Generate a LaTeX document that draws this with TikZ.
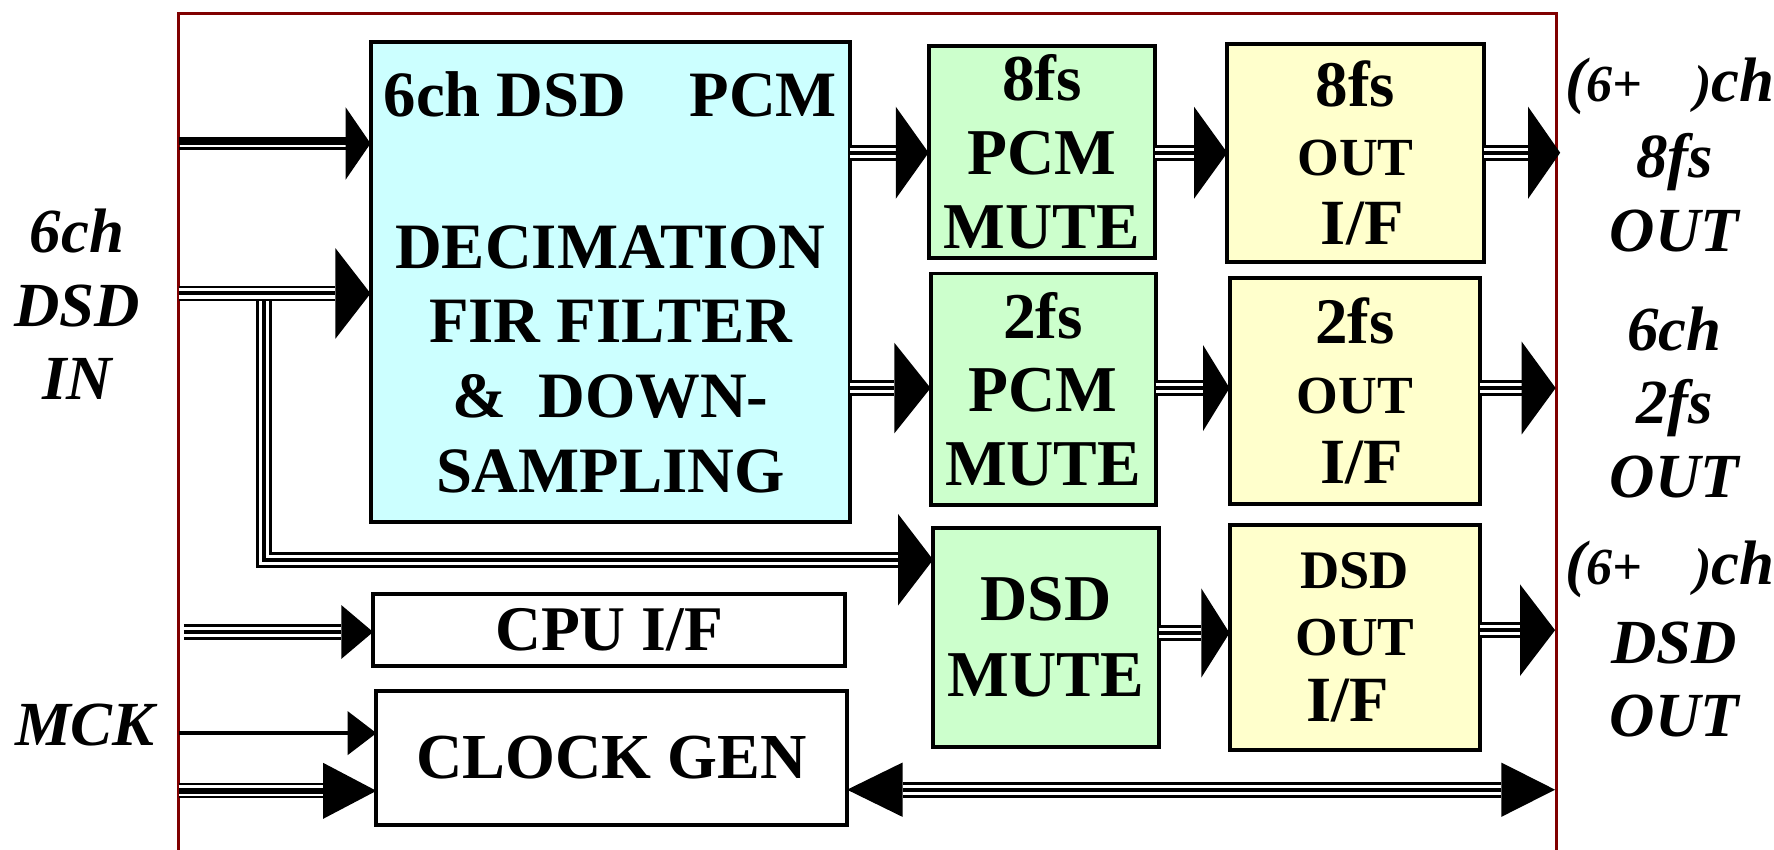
\documentclass[tikz,border=0pt]{standalone}
\usepackage{fontspec}
\setmainfont{Liberation Serif}
\usetikzlibrary{calc}
\definecolor{framered}{HTML}{800000}
\definecolor{bluefill}{HTML}{CCFFFF}
\definecolor{greenfill}{HTML}{CCFFCC}
\definecolor{yellowfill}{HTML}{FFFFCC}
\newcommand\fsz[1]{\fontsize{#1}{#1}\selectfont}
\begin{document}
\begin{tikzpicture}[x=1pt,y=-1pt,
  blk/.style={draw=black,line width=3.5pt,inner sep=0pt,outer sep=0pt,align=center,font=\bfseries\fontsize{57.2}{66}\selectfont},
  bus/.style={draw=black,line width=14pt,postaction={draw=white,line width=9pt},postaction={draw=black,line width=3.5pt}},
  busb/.style={draw=black,line width=13.5pt,postaction={draw=white,line width=9.5pt},postaction={draw=black,line width=5pt}},
  lbl/.style={align=center,inner sep=0pt,font=\bfseries\itshape\fontsize{55.5}{65}\selectfont}]
\useasboundingbox (0,0) rectangle (1568,751);
\clip (0,0) rectangle (1568,751);
\fill[white] (0,0) rectangle (1568,751);
% frame
\draw[framered,line width=2.5pt] (158,760) -- (158,11.8) -- (1375.5,11.8) -- (1375.5,760);
% blocks
\node[blk,fill=bluefill,minimum width=424pt,minimum height=424pt] (dec) at (539.5,249.5)
  {6ch DSD\hspace{56pt}PCM\\[68pt]DECIMATION\\FIR FILTER\\\&\ \ DOWN-\\SAMPLING};
\node[blk,fill=greenfill,minimum width=200.5pt,minimum height=187.5pt,font=\bfseries\fontsize{57.8}{65.5}\selectfont] (b8) at (921,134.5) {8fs\\PCM\\MUTE};
\node[blk,fill=greenfill,minimum width=199pt,minimum height=204.5pt,font=\bfseries\fontsize{57.8}{65}\selectfont] (b2) at (922,344) {2fs\\PCM\\MUTE};
\node[blk,fill=greenfill,minimum width=199.5pt,minimum height=193.5pt,font=\bfseries\fontsize{57.8}{67}\selectfont] (dsdm) at (924.5,563.5) {DSD\\MUTE};
\node[blk,fill=yellowfill,minimum width=226.5pt,minimum height=192pt,font=\bfseries\fontsize{52}{61}\selectfont] (o8) at (1198,135.2)
  {{\fsz{57.5}8fs}\\{\fsz{47.4}OUT}\\{\fsz{57}\hspace*{12pt}I/F}};
\node[blk,fill=yellowfill,minimum width=221.5pt,minimum height=199.5pt,font=\bfseries\fontsize{52}{62}\selectfont] (o2) at (1197.5,345.5)
  {{\fsz{57.5}2fs}\\{\fsz{47.4}OUT}\\{\fsz{57}\hspace*{12pt}I/F}};
\node[blk,fill=yellowfill,minimum width=221.5pt,minimum height=199.5pt,font=\bfseries\fontsize{50}{59}\selectfont] (od) at (1197.5,563.5)
  {{\fsz{48}DSD}\\{\fsz{48.5}OUT}\\{\fsz{57}I/F\hspace*{13pt}}};
\node[blk,fill=white,minimum width=417pt,minimum height=63.5pt,font=\bfseries\fontsize{56.2}{66}\selectfont] (cpu) at (538.3,556.5) {CPU I/F};
\node[blk,fill=white,minimum width=416pt,minimum height=118.5pt,font=\bfseries\fontsize{56.7}{66}\selectfont] (clk) at (540.7,670) {CLOCK GEN};
% frame coordinates
\coordinate (i1) at (158,126.8);
\coordinate (i2) at (158,259.4);
\coordinate (br) at (233.5,262);
\coordinate (c1) at (162.5,558.6);
\coordinate (mck) at (158,648);
\coordinate (c2) at (158,699);
\coordinate (f1) at (1379,135);
\coordinate (f2) at (1375,343);
\coordinate (f3) at (1374.5,557);
\coordinate (f4) at (1374.5,698);
% 1: input 1
\draw[line width=6.8pt] ($(i1)+(0,-2)$) -- ($(i1 -| dec.west)+(-22,-2)$);
\draw[line width=2.4pt] ($(i1)+(0,4.6)$) -- ($(i1 -| dec.west)+(-22,4.6)$);
\fill (i1 -| dec.west) -- ++(-22,-32) -- ++(0,64) -- cycle;
% 3: branch to DSD mute
\draw[bus,line join=miter] (br) |- ($([yshift=-28pt]dsdm.north west)+(-31,0)$);
\fill ([yshift=-28pt]dsdm.north west) -- ++(-31,-40.5) -- ++(0,81) -- cycle;
% 2: input 2
\draw[bus] (i2) -- ($(i2 -| dec.west)+(-31,0)$);
\fill (i2 -| dec.west) -- ++(-31,-40) -- ++(0,80) -- cycle;
% 4: dec -> 8fs PCM mute
\draw[bus] (dec.east |- 0,135) -- ($(b8.west |- 0,135)+(-29,0)$);
\fill (b8.west |- 0,135) -- ++(-29,-40.7) -- ++(0,81.4) -- cycle;
% 5: dec -> 2fs PCM mute
\draw[bus] (dec.east |- 0,343) -- ($(b2.west |- 0,343)+(-32,0)$);
\fill (b2.west |- 0,343) -- ++(-32,-40) -- ++(0,80) -- cycle;
% 6: 8fs mute -> 8fs out
\draw[bus] (b8.east |- 0,135) -- ($(o8.west |- 0,135)+(-29.4,0)$);
\fill (o8.west |- 0,135) -- ++(-29.4,-40.7) -- ++(0,81.4) -- cycle;
% 7: 8fs out -> pin
\draw[bus] (o8.east |- f1) -- ($(f1)+(-28.4,0)$);
\fill (f1) -- ++(-28.4,-40.7) -- ++(0,81.4) -- cycle;
% 8: 2fs mute -> 2fs out
\draw[bus] (b2.east |- 0,343) -- ($(o2.west |- 0,343)+(-23.4,0)$);
\fill (o2.west |- 0,343) -- ++(-23.4,-38) -- ++(0,76) -- cycle;
% 9: 2fs out -> pin
\draw[bus] (o2.east |- f2) -- ($(f2)+(-30,0)$);
\fill (f2) -- ++(-30,-41) -- ++(0,82) -- cycle;
% 10: DSD mute -> DSD out
\draw[bus] (dsdm.east |- 0,559.5) -- ($(od.west |- 0,559.5)+(-25,0)$);
\fill (od.west |- 0,559.5) -- ++(-25,-39.5) -- ++(0,79) -- cycle;
% 11: DSD out -> pin
\draw[bus] (od.east |- f3) -- ($(f3)+(-31,0)$);
\fill (f3) -- ++(-31,-40.5) -- ++(0,81) -- cycle;
% 12: CPU input
\draw[bus] (c1) -- ($(c1 -| cpu.west)+(-28,0)$);
\fill (c1 -| cpu.west) -- ++(-28,-23.7) -- ++(0,47.4) -- cycle;
% 13: MCK
\draw[line width=4pt] (mck) -- ($(mck -| clk.west)+(-25.5,0)$);
\fill (mck -| clk.west) -- ++(-25.5,-19.5) -- ++(0,39) -- cycle;
% 14: clock input 2
\draw[busb] (c2) -- ($(c2 -| clk.west)+(-47,0)$);
\fill (c2 -| clk.west) -- ++(-47,-24.7) -- ++(0,49.4) -- cycle;
% 15: bidirectional clock bus
\draw[bus] ($(clk.east |- f4)+(49,0)$) -- ($(f4)+(-47.5,0)$);
\fill (clk.east |- f4) -- ++(49,-24) -- ++(0,48) -- cycle;
\fill (f4) -- ++(-47.5,-24) -- ++(0,48) -- cycle;
% outside labels
\node[lbl] (lin) at (68,269) {6ch\\DSD\\IN};
\node[lbl] (lmck) at (75,641) {MCK};
\node[lbl] (r1a) at (1476,76) {(\fontsize{46}{46}\selectfont 6+\hspace{46pt})\fontsize{55.5}{55.5}\selectfont ch};
\node[lbl] (r1b) at (1480,170.5) {8fs\\OUT};
\node[lbl] (r2) at (1480,355.5) {6ch\\2fs\\OUT};
\node[lbl] (r3a) at (1476,503) {(\fontsize{46}{46}\selectfont 6+\hspace{46pt})\fontsize{55.5}{55.5}\selectfont ch};
\node[lbl] (r3b) at (1480,600.5) {DSD\\OUT};
\end{tikzpicture}
\end{document}
